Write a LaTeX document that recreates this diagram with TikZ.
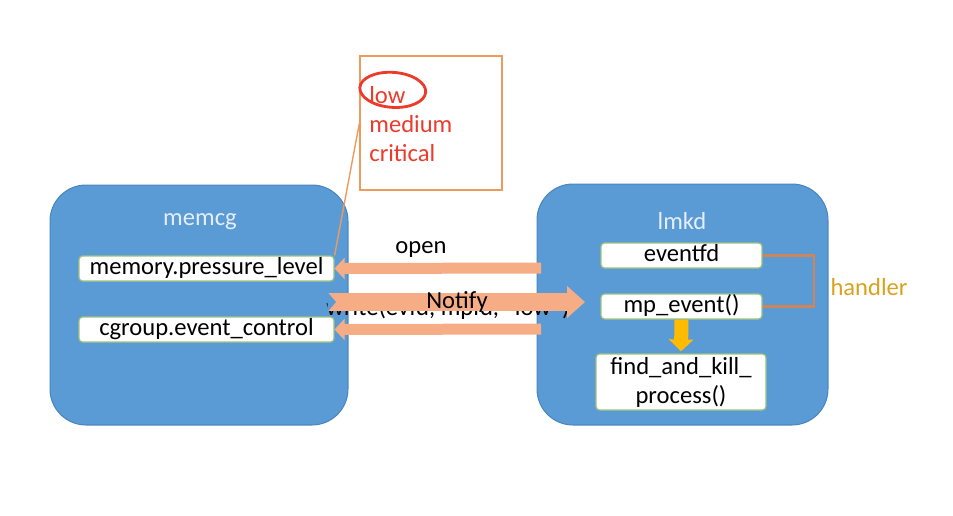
\documentclass[tikz,border=0pt]{standalone}
\usepackage{fontspec}
\setmainfont{Carlito}
\usetikzlibrary{arrows.meta}

\definecolor{panelblue}{HTML}{5B9BD5}
\definecolor{paneledge}{HTML}{4A86BE}
\definecolor{titletext}{HTML}{E4EEF8}
\definecolor{boxedge}{HTML}{9CC27E}
\definecolor{pipe}{HTML}{F6AD86}
\definecolor{kill}{HTML}{FFBB00}
\definecolor{noteedge}{HTML}{EE9A5E}
\definecolor{lvlred}{HTML}{EC3B2B}
\definecolor{hline}{HTML}{CF8558}
\definecolor{hgold}{HTML}{D9A21C}

\begin{document}
\begin{tikzpicture}[x=0.02cm,y=-0.02cm,
    font=\fontsize{14}{16.5}\selectfont,
    panel/.style={draw=paneledge, fill=panelblue, rounded corners=0.72cm, line width=0.6pt},
    title/.style={text=titletext},
    fbox/.style={draw=boxedge, fill=white, rounded corners=2pt, line width=0.7pt,
        inner sep=0pt, text height=10pt, text depth=3.5pt, minimum height=0.5cm},
    thinpipe/.style={draw=pipe, line width=0.22cm, -{Triangle[width=0.42cm,length=0.2cm]}},
    fatpipe/.style={draw=pipe, line width=0.37cm, -{Triangle[width=0.62cm,length=0.36cm]}},
    killpipe/.style={draw=kill, line width=0.28cm, -{Triangle[width=0.48cm,length=0.24cm]}},
    lvl/.style={text=lvlred, anchor=west, inner sep=0pt}]

\useasboundingbox (0,0) rectangle (953,515);

% two sides
\node[panel, minimum width=5.96cm, minimum height=4.8cm] (memcg) at (199,305) {};
\node[panel, minimum width=5.82cm, minimum height=4.82cm] (lmkd) at (682.5,304.5) {};
\node[title] (memcgname) at (200,222) {memcg};
\node[title] (lmkdname) at (682,221) {lmkd};

% files of memcg
\node[fbox, minimum width=5.1cm] (pressure) at (206.5,268.5) {memory.pressure\_level};
\node[fbox, minimum width=5.1cm] (control) at (206.5,329.5) {cgroup.event\_control};

% lmkd parts
\node[fbox, minimum width=3.22cm] (evfd) at (681.5,255.5) {eventfd};
\node[fbox, minimum width=3.22cm] (mpev) at (681.5,306.5) {mp\_event()};
\node[draw=boxedge, fill=white, rounded corners=2pt, line width=0.7pt, align=center,
    minimum width=3.4cm, minimum height=1.12cm, inner sep=0pt] (fk) at (681,382)
    {find\_and\_kill\_\\process()};

% levels note
\node[draw=noteedge, line width=0.7pt, fill=white, minimum width=2.84cm, minimum height=2.68cm] (note) at (431,123) {};
\node[lvl] (low) at (369,95) {low};
\node[lvl] (medium) at (369,124) {medium};
\node[lvl] (critical) at (369,153) {critical};
\draw[lvlred, line width=1.6pt, rotate around={-4:(low.center)}] ([xshift=0.1cm,yshift=0.11cm]low.center) ellipse [x radius=0.66cm, y radius=0.35cm];
\draw[noteedge, line width=0.8pt] (note.west) -- (pressure.north east);

% messages
\node[inner sep=0pt] (writecall) at (448,308) {write(evfd, mpfd, "low")};
\coordinate (openfrom) at (541,268);
\coordinate (ctlfrom) at (541,329);
\coordinate (notifyfrom) at (328,302);
\coordinate (notifyto) at (585,302);
\draw[thinpipe] (openfrom) -- (pressure.east);
\draw[thinpipe] (ctlfrom) -- (control.east);
\draw[fatpipe] (notifyfrom) -- (notifyto);
\fill[panelblue] (notifyfrom) ++(-0.5,-9.8) -- ++(8.5,9.8) -- ++(-8.5,9.8) -- cycle;
\node (openlbl) at (421,249) {open};
\node (notifylbl) at (457,302) {Notify};

% handler and kill
\draw[hline, line width=1.2pt] (evfd.east) -- ++(51,0) |- (mpev.east);
\node[text=hgold] (handlerlbl) at (869,287) {handler};
\draw[killpipe] (mpev.south) -- ([yshift=0.04cm]fk.north);

\end{tikzpicture}
\end{document}
